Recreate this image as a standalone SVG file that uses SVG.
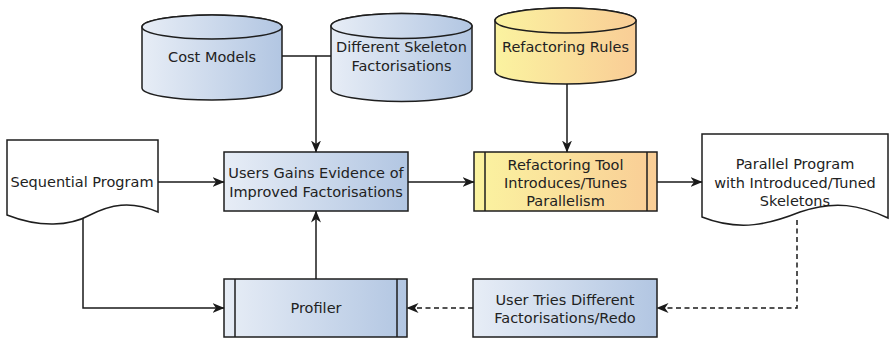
<svg xmlns="http://www.w3.org/2000/svg" width="891" height="338" viewBox="0 0 891 338">
<defs>
<linearGradient id="blue" x1="0" y1="0" x2="1" y2="0">
<stop offset="0" stop-color="#e7edf6"/>
<stop offset="1" stop-color="#b2c6e2"/>
</linearGradient>
<linearGradient id="yellow" x1="0" y1="0" x2="1" y2="0">
<stop offset="0" stop-color="#fbf3a0"/>
<stop offset="1" stop-color="#f9cd96"/>
</linearGradient>
<marker id="arr" viewBox="0 0 12 10" refX="11.5" refY="5" markerWidth="12" markerHeight="10" markerUnits="userSpaceOnUse" orient="auto">
<path d="M0,0 L12,5 L0,10 L3.5,5 Z" fill="#1a1a1a"/>
</marker>
</defs>
<style>
.shape{stroke:#1e1e1e;stroke-width:1.5}
.b{fill:url(#blue)}
.y{fill:url(#yellow)}
.doc{fill:#fff}
.t{font-family:"DejaVu Sans",sans-serif;font-size:14.5px;fill:#222;text-anchor:middle}
.c{fill:none;stroke:#1a1a1a;stroke-width:1.5}
.d{stroke-dasharray:5,3.5}
</style>
<rect width="891" height="338" fill="#fff"/>

<g id="cost-models">
<path class="shape b" d="M142,27 V88 A70,12 0 0 0 282,88 V27 A70,12 0 0 0 142,27 Z"/>
<ellipse class="shape b" cx="212" cy="27" rx="70" ry="12"/>
<text class="t" x="212" y="62">Cost Models</text>
</g>

<g id="skeleton-factorisations">
<path class="shape b" d="M331,26 V89 A70.5,12.5 0 0 0 472,89 V26 A70.5,12.5 0 0 0 331,26 Z"/>
<ellipse class="shape b" cx="401.5" cy="26" rx="70.5" ry="12.5"/>
<text class="t" x="401.5" y="52">Different Skeleton</text>
<text class="t" x="401.5" y="71">Factorisations</text>
</g>

<g id="refactoring-rules">
<path class="shape y" d="M495,20.5 V71.5 A70.5,12.5 0 0 0 636,71.5 V20.5 A70.5,12.5 0 0 0 495,20.5 Z"/>
<ellipse class="shape y" cx="565.5" cy="20.5" rx="70.5" ry="12.5"/>
<text class="t" x="565.5" y="52">Refactoring Rules</text>
</g>

<g id="sequential-program">
<path class="shape doc" d="M7,140 H158 V212 C130,200 110,205 90,215 C70,226 40,228 7,215 Z"/>
<text class="t" x="82" y="187">Sequential Program</text>
</g>

<g id="users-gains">
<rect class="shape b" x="224" y="152" width="184" height="59"/>
<text class="t" x="316" y="178">Users Gains Evidence of</text>
<text class="t" x="316" y="197">Improved Factorisations</text>
</g>

<g id="refactoring-tool">
<rect class="shape y" x="474" y="152" width="183" height="59"/>
<line class="shape" x1="485" y1="152" x2="485" y2="211"/>
<line class="shape" x1="647" y1="152" x2="647" y2="211"/>
<text class="t" x="565.5" y="170">Refactoring Tool</text>
<text class="t" x="565.5" y="188">Introduces/Tunes</text>
<text class="t" x="565.5" y="206">Parallelism</text>
</g>

<g id="parallel-program">
<path class="shape doc" d="M702,134 H888 V218 C860,205 835,200 800,212 C770,224 740,232 702,217 Z"/>
<text class="t" x="795" y="169">Parallel Program</text>
<text class="t" x="795" y="188">with Introduced/Tuned</text>
<text class="t" x="795" y="206">Skeletons</text>
</g>

<g id="profiler">
<rect class="shape b" x="224" y="279" width="183" height="58"/>
<line class="shape" x1="235" y1="279" x2="235" y2="337"/>
<line class="shape" x1="397" y1="279" x2="397" y2="337"/>
<text class="t" x="316" y="313">Profiler</text>
</g>

<g id="user-tries">
<rect class="shape b" x="473" y="279" width="184" height="58"/>
<text class="t" x="565" y="305">User Tries Different</text>
<text class="t" x="565" y="323">Factorisations/Redo</text>
</g>

<g id="connectors">
<path class="c" d="M282,56 H331"/>
<path class="c" d="M316,56 V152" marker-end="url(#arr)"/>
<path class="c" d="M567,84 V152" marker-end="url(#arr)"/>
<path class="c" d="M158,182 H224" marker-end="url(#arr)"/>
<path class="c" d="M408,182 H474" marker-end="url(#arr)"/>
<path class="c" d="M657,182 H702" marker-end="url(#arr)"/>
<path class="c" d="M316,279 V211" marker-end="url(#arr)"/>
<path class="c" d="M83,218 V308 H224" marker-end="url(#arr)"/>
<path class="c d" d="M797,220 V308 H657" marker-end="url(#arr)"/>
<path class="c d" d="M473,308 H407" marker-end="url(#arr)"/>
</g>
</svg>
